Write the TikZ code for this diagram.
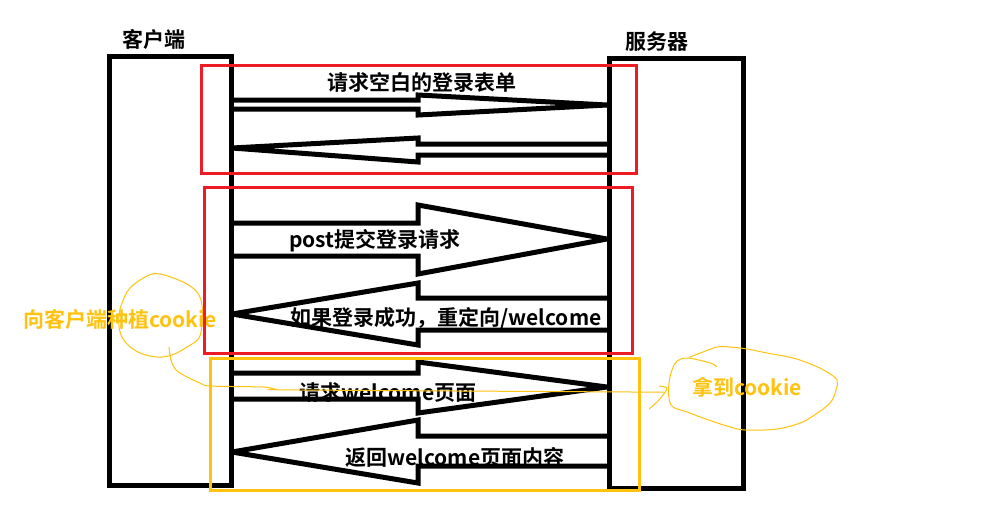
\documentclass[tikz,border=0pt]{standalone}
\usepackage{fontspec}
\setmainfont{Noto Sans CJK SC}[BoldFont=* Bold]
\begin{document}
\begin{tikzpicture}[x=1pt,y=-1pt,
  blk/.style={draw=black,line width=5pt,line join=miter,miter limit=3},
  redbox/.style={draw=pred,line width=3pt},
  yelbox/.style={draw=pyel,line width=3pt},
  thin/.style={draw=pyel,line width=1pt},
  lbl/.style={font=\bfseries\fontsize{21}{24}\selectfont,inner sep=0pt,anchor=base},
  ylbl/.style={lbl,text=pyel}]
\definecolor{pred}{HTML}{ED1C24}
\definecolor{pyel}{HTML}{FFC20E}
\useasboundingbox (0,0) rectangle (984,515);
\fill[white] (0,0) rectangle (984,515);
% client and server boxes
\draw[blk] (109,56) rectangle (231,485);
\draw[blk] (609,58) rectangle (743,488);
% arrows
\draw[blk] (231,100) -- (418,100) -- (418,95) -- (607,105) -- (418,115) -- (418,109) -- (231,109);
\draw[blk] (607,144) -- (418,144) -- (418,138) -- (232,148) -- (418,162) -- (418,155) -- (607,155);
\draw[blk] (231,223) -- (418,223) -- (418,205) -- (607,239) -- (418,274) -- (418,256) -- (231,256);
\draw[blk] (607,298) -- (418,298) -- (418,283) -- (232,314) -- (418,345) -- (418,330) -- (607,330);
\draw[blk] (231,373) -- (418,373) -- (418,362) -- (607,387) -- (418,413) -- (418,399) -- (231,399);
\draw[blk] (607,436) -- (418,436) -- (418,420) -- (232,452) -- (418,483) -- (418,466) -- (607,466);
% headings
\node[lbl] (client) at (154,47) {客户端};
\node[lbl] (server) at (657,49) {服务器};
% arrow labels
\node[lbl] (t1) at (422,90) {请求空白的登录表单};
\node[lbl] (t3) at (375,247) {post提交登录请求};
\node[lbl] (t4) at (446,325) {如果登录成功，重定向/welcome};
\node[lbl] (t5) at (388,400) {请求welcome页面};
\node[lbl] (t6) at (455,465) {返回welcome页面内容};
% yellow annotations
\node[ylbl] (plant) at (120,327) {向客户端种植cookie};
\node[ylbl] (get) at (747,395) {拿到cookie};
\draw[thin] plot[smooth cycle,tension=0.6] coordinates {(160,274) (183,282) (197,292) (202,305) (202,322) (199,338) (187,347) (172,355) (157,357) (140,353) (127,344) (120,332) (119,316) (122,303) (130,288) (147,276)};
\draw[thin] plot[smooth,tension=0.6] coordinates {(717,367) (713,364) (703,361) (687,358) (677,361) (672,370) (669,383) (669,398) (673,407) (687,412) (703,418) (727,426) (745,430) (777,429) (800,423) (813,416) (830,403) (836,390) (837,380) (827,372) (813,365) (793,358) (767,353) (747,349) (730,347) (717,347) (703,352) (690,357)};
\draw[thin] plot[smooth,tension=0.5] coordinates {(169,347) (171,360) (176,370) (187,377) (200,383) (210,386) (263,387) (275,389) (300,390) (633,392) (658,392)};
\draw[thin] plot[smooth,tension=0.6] coordinates {(649,409) (657,402) (663,395) (667,389) (665,387) (659,386)};
% red and yellow frames
\draw[redbox] (201,65) rectangle (636,173);
\draw[redbox] (204,187) rectangle (632,353);
\draw[yelbox] (210,358) rectangle (639,490);
\end{tikzpicture}
\end{document}
